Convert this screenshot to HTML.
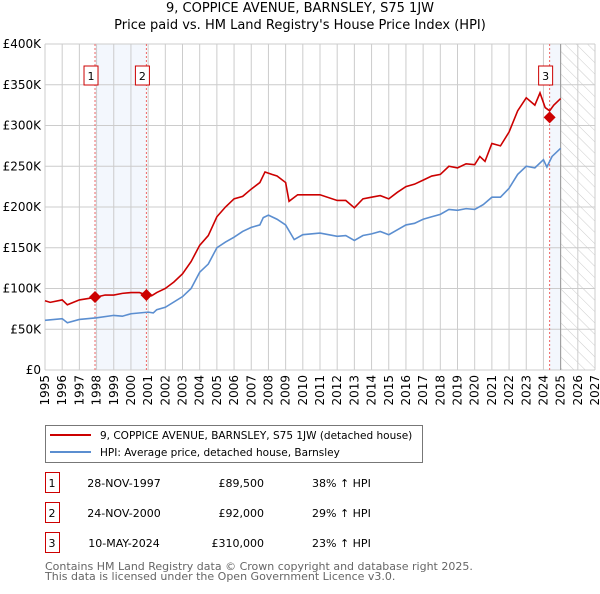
<!DOCTYPE html>
<html><head><meta charset="utf-8"><style>
body{margin:0;background:#fff;font-family:"DejaVu Sans","Liberation Sans",sans-serif;}
svg text{font-family:"DejaVu Sans","Liberation Sans",sans-serif;}
</style></head><body>
<svg id="chart" width="600" height="590" xmlns="http://www.w3.org/2000/svg">
<defs><pattern id="hatch" width="8" height="8" patternUnits="userSpaceOnUse" patternTransform="rotate(-45)"><rect width="8" height="8" fill="#fff"/><line x1="0" y1="0" x2="0" y2="8" stroke="#ccc" stroke-width="1"/></pattern></defs>
<text x="300" y="12" text-anchor="middle" font-size="13">9, COPPICE AVENUE, BARNSLEY, S75 1JW</text>
<text x="300" y="29" text-anchor="middle" font-size="13">Price paid vs. HM Land Registry's House Price Index (HPI)</text>
<g id="plot"></g>
<g>
<rect x="45.5" y="425.5" width="377" height="37" fill="#fff" stroke="#777"/>
<line x1="50" y1="435" x2="91" y2="435" stroke="#cc0000" stroke-width="2"/>
<text x="100" y="439" font-size="10.5">9, COPPICE AVENUE, BARNSLEY, S75 1JW (detached house)</text>
<line x1="50" y1="452" x2="91" y2="452" stroke="#5b8ed0" stroke-width="2"/>
<text x="100" y="456" font-size="10.5">HPI: Average price, detached house, Barnsley</text>
</g>
<g id="table" font-size="11"></g>
<text x="45" y="570" font-size="11" fill="#666">Contains HM Land Registry data © Crown copyright and database right 2025.</text>
<text x="45" y="580" font-size="11" fill="#666">This data is licensed under the Open Government Licence v3.0.</text>
</svg>
<script>
const hpiYears=[1995,1996,1996.3,1997,1998,1999,1999.5,2000,2001,2001.3,2001.5,2002,2003,2003.5,2004,2004.5,2005,2005.5,2006,2006.5,2007,2007.5,2007.7,2008,2008.5,2009,2009.5,2010,2011,2012,2012.5,2013,2013.5,2014,2014.5,2015,2015.5,2016,2016.5,2017,2017.5,2018,2018.5,2019,2019.5,2020,2020.5,2021,2021.5,2022,2022.5,2023,2023.5,2024,2024.2,2024.5,2025];
const hpiValues=[61,63,58,62,64,67,66,69,71,70,74,77,90,100,120,130,150,157,163,170,175,178,187,190,185,178,160,166,168,164,165,159,165,167,170,166,172,178,180,185,188,191,197,196,198,197,203,212,212,223,240,250,248,258,249,262,272];
const priceYears=[1995,1995.3,1996,1996.3,1997,1997.9,1998.5,1999,1999.5,2000,2000.5,2000.9,2001.2,2001.5,2002,2002.5,2003,2003.5,2004,2004.5,2005,2005.5,2006,2006.5,2007,2007.5,2007.8,2008.2,2008.5,2009,2009.2,2009.7,2010,2011,2012,2012.5,2013,2013.5,2014,2014.5,2015,2015.5,2016,2016.5,2017,2017.5,2018,2018.5,2019,2019.5,2020,2020.3,2020.6,2021,2021.5,2022,2022.5,2023,2023.5,2023.8,2024.1,2024.36,2024.6,2025];
const priceValues=[85,83,86,80,86,89,92,92,94,95,95,92,91,95,100,108,118,133,153,165,188,200,210,213,222,230,243,240,238,230,207,215,215,215,208,208,199,210,212,214,210,218,225,228,233,238,240,250,248,253,252,262,256,278,275,292,318,334,325,340,322,318,325,333];
const saleLabels=["1","2","3"];
const saleYears=[1997.91,2000.9,2024.36];
const saleValues=[89.5,92,310];
const saleDates=["28-NOV-1997","24-NOV-2000","10-MAY-2024"];
const salePrices=["£89,500","£92,000","£310,000"];
const saleHpi=["38% ↑ HPI","29% ↑ HPI","23% ↑ HPI"];
const yTicks=[0,50,100,150,200,250,300,350,400];
const yTickLabels=["£0","£50K","£100K","£150K","£200K","£250K","£300K","£350K","£400K"];
const xTicks=[1995,1996,1997,1998,1999,2000,2001,2002,2003,2004,2005,2006,2007,2008,2009,2010,2011,2012,2013,2014,2015,2016,2017,2018,2019,2020,2021,2022,2023,2024,2025,2026,2027];
const NS="http://www.w3.org/2000/svg";
const X0=45,X1=595,Y0=370,Y1=44;
const xs=y=>X0+(y-1995)/32*(X1-X0);
const ys=v=>Y0-v/400*(Y0-Y1);
const plot=document.getElementById('plot');
function mk(t,a,p){const e=document.createElementNS(NS,t);for(const k in a)e.setAttribute(k,a[k]);(p||plot).appendChild(e);return e;}
let r=mk('rect',{x:xs(saleYears[0]),y:Y1,width:xs(saleYears[1])-xs(saleYears[0]),height:Y0-Y1,fill:'#eef3fc',opacity:0.7});


r=mk('rect',{x:xs(saleYears[2]),y:Y1,width:xs(2025)-xs(saleYears[2]),height:Y0-Y1,fill:'#eef3fc',opacity:0.7});


r=mk('rect',{x:xs(2025),y:Y1,width:X1-xs(2025),height:Y0-Y1,fill:'url(#hatch)'});


yTicks.forEach((v,i)=>{
 const l=mk('line',{x1:X0,x2:X1,y1:ys(v),y2:ys(v),stroke:'#ccc'});
 
 
 const t=mk('text',{x:X0-4,y:ys(v)+4,'text-anchor':'end','font-size':12});
 
 
 t.textContent=yTickLabels[i];
});
xTicks.forEach(y=>{
 const l=mk('line',{x1:xs(y),x2:xs(y),y1:Y1,y2:Y0,stroke:'#ccc'});
 
 
 const t=mk('text',{x:0,y:0,'text-anchor':'end','font-size':12,transform:`translate(${xs(y)+4},${Y0+5}) rotate(-90)`});
 
 
 t.textContent=y;
});
let l=mk('line',{x1:xs(2025),x2:xs(2025),y1:Y1,y2:Y0,stroke:'#999'});


saleYears.forEach((y,i)=>{
 const d=mk('line',{x1:xs(y),x2:xs(y),y1:Y1,y2:Y0,stroke:'#e66','stroke-dasharray':'2,2'});
 
 
});
function line(xa,va,col,name){
 const p=mk('polyline',{points:xa.map((x,i)=>xs(x)+','+ys(va[i])).join(' '),fill:'none',stroke:col,'stroke-width':1.6});
 
 
}
line(hpiYears,hpiValues,'#5b8ed0','hpi-line');
line(priceYears,priceValues,'#cc0000','price-line');
saleYears.forEach((y,i)=>{
 const cx=xs(y),cy=ys(saleValues[i]);
 const d=mk('polygon',{points:`${cx},${cy-6} ${cx+6},${cy} ${cx},${cy+6} ${cx-6},${cy}`,fill:'#cc0000'});
 
 
 const b=mk('rect',{x:cx-11,y:66,width:14,height:19,fill:'#fff',stroke:'#cc0000'});
 
 
 const t=mk('text',{x:cx-4,y:80,'text-anchor':'middle','font-size':11});
 
 
 t.textContent=saleLabels[i];
});
const tb=document.getElementById('table');
saleLabels.forEach((s,i)=>{
 const y=483+i*30;
 const b=mk('rect',{x:45.5,y:y-10.5,width:14,height:20,fill:'#fff',stroke:'#cc0000'},tb);
 
 
 const cols=[[52,'middle',s],[124,'middle',saleDates[i]],[264,'end',salePrices[i]],[312,'start',saleHpi[i]]];
 cols.forEach(c=>{
  const t=mk('text',{x:c[0],y:y+4,'text-anchor':c[1]},tb);
  
  
  t.textContent=c[2];
 });
});
</script>
</body></html>
